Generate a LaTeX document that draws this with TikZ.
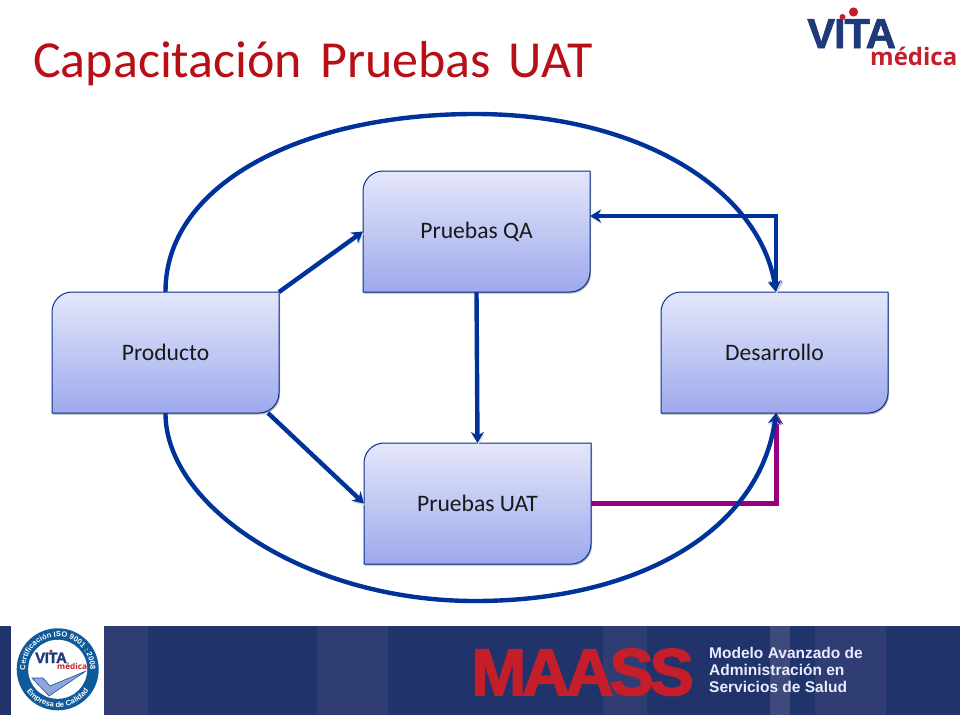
\documentclass[tikz,border=0pt]{standalone}
\usepackage{fontspec}
\usetikzlibrary{arrows.meta,shadows,decorations.text,calc}
\setmainfont{Carlito}
\newfontfamily\arialb[BoldFont={Liberation Sans Bold}]{Liberation Sans}
\newfontfamily\maassfont[LetterSpace=-6,FakeBold=2.5]{Liberation Sans Bold}
\newfontfamily\vitafont[LetterSpace=-3,FakeBold=1.5]{Liberation Sans Bold}
\newfontfamily\medfont{Open Sans Bold}
\definecolor{linkblue}{HTML}{003399}
\definecolor{linkmag}{HTML}{990080}
\definecolor{boxedge}{HTML}{0B2F8F}
\definecolor{boxtop}{HTML}{E4E7FA}
\definecolor{boxbot}{HTML}{9DA9EC}
\definecolor{titlered}{HTML}{B80F16}
\definecolor{banddark}{HTML}{20336B}
\definecolor{bandmid}{HTML}{303D72}
\definecolor{bandlite}{HTML}{3F4A7C}
\definecolor{maassred}{HTML}{C41E2B}
\definecolor{vitablue}{HTML}{1F3A78}
\definecolor{sealblue}{HTML}{0E5A9B}
\tikzset{
  x=1pt,y=-1pt,
  boxshape/.style={draw=boxedge,line width=1pt,top color=boxtop,bottom color=boxbot,
    drop shadow={shadow xshift=1pt,shadow yshift=-1.5pt,opacity=.3,fill=black}},
  boxlabel/.style={minimum width=227pt,minimum height=121pt,inner sep=0pt,outer sep=0pt,font=\fontsize{23.6}{27}\selectfont,text=black!90},
  link/.style={line width=4.4pt,draw=linkblue,-{Stealth[length=11pt,width=13pt]},
    preaction={draw=black!15,transform canvas={xshift=.8pt,yshift=-1.6pt}}},
  linktwo/.style={link,{Stealth[length=11pt,width=13pt]}-{Stealth[length=11pt,width=13pt]}},
  maglink/.style={link,draw=linkmag},
  band/.style={fill=banddark,draw=none},
  stripe/.style={fill=#1,draw=none},
}
\newcommand{\diagshape}[2]{%
  \path[boxshape] (#1,#2+121) -- (#1,#2+20) .. controls (#1,#2+9) and (#1+9,#2) .. (#1+20,#2)
    -- (#1+227,#2) -- (#1+227,#2+101) .. controls (#1+227,#2+112) and (#1+218,#2+121) .. (#1+207,#2+121) -- cycle;}
\newcommand{\boxtxt}[1]{\raisebox{-1.5pt}{#1}}
\begin{document}
\begin{tikzpicture}
\useasboundingbox (0,0) rectangle (960,720);
\fill[white] (0,0) rectangle (960,720);

% bottom band
\path[band] (0,626) rectangle (11,715);
\path[band] (104,626) rectangle (960,715);
\path[stripe=bandmid] (104,626) rectangle (148,715);
\path[stripe=bandmid] (317,626) rectangle (388,715);
\path[stripe=bandmid] (603,626) rectangle (647,715);
\path[stripe=bandlite] (770,626) rectangle (790,715);
\path[stripe=bandmid] (815,626) rectangle (886,715);

% title
\node[anchor=base west,inner sep=0pt,text=titlered,font=\fontsize{52}{60}\selectfont] (title) at (33,77) {Capacitación\hspace{.12em} Pruebas\hspace{.12em} UAT};

% top logo
\node[anchor=base west,inner sep=0pt,text=vitablue,font=\vitafont\fontsize{42}{44}\selectfont] (vita) at (807,48) {VITA};
\fill[maassred] (853.5,12) circle (4.6);
\fill[maassred] (842.5,17) circle (3);
\node[anchor=base west,inner sep=0pt,text=maassred,font=\medfont\fontsize{24}{26}\selectfont] (medica) at (870,65) {médica};

% boxes
\diagshape{52}{292}
\diagshape{363}{171}
\diagshape{364}{443}
\diagshape{661}{292}
\node[boxlabel] (prod) at (165.5,352.5) {\boxtxt{Producto}};
\node[boxlabel] (qa) at (476.5,231.5) {\boxtxt{Pruebas QA}};
\node[boxlabel] (uat) at (477.5,503.5) {\boxtxt{Pruebas UAT}};
\node[boxlabel] (des) at (774.5,352.5) {\boxtxt{Desarrollo}};

% connectors
\draw[link] (prod.north east) -- (qa.west);
\draw[link] (prod.south east) ++(-11,0) -- (uat.west);
\draw[link] (qa.south) -- (uat.north);
\draw[linktwo] ([xshift=1.5pt]des.north) |- ([yshift=15.5pt]qa.east);
\draw[maglink] (uat.east) -| ([xshift=2pt]des.south);
\draw[link] (prod.north) .. controls (165,185) and (300,114) .. (475,114)
   .. controls (640,114) and (760,190) .. ([xshift=1.5pt]des.north);
\draw[link] (prod.south) .. controls (165,505) and (305,601) .. (475,601)
   .. controls (640,601) and (760,530) .. ([xshift=1.5pt]des.south);

% seal
\fill[white] (11,626) rectangle (104,715);
\fill[sealblue] (57.7,669.3) circle (41);
\fill[white] (57.7,669.3) circle (29.5);
\path[decorate,decoration={text along path,text align=center,
   text={|\arialb\bfseries\fontsize{7.6}{9}\selectfont\color{white}|Certificación ISO 9001 : 2008}}]
   (57.7,669.3) ++(160:32.5) arc[start angle=160,end angle=380,radius=32.5];
\path[decorate,decoration={text along path,text align=center,
   text={|\arialb\bfseries\fontsize{7.6}{9}\selectfont\color{white}|Empresa de Calidad}}]
   (57.7,669.3) ++(150:38) arc[start angle=150,end angle=30,radius=38];
\node[anchor=base west,inner sep=0pt,text=vitablue,font=\vitafont\fontsize{15}{18}\selectfont] (sealvita) at (35,663) {VITA};
\fill[maassred] (51,651) circle (1.6);
\node[anchor=base west,inner sep=0pt,text=maassred,font=\medfont\fontsize{8.2}{9}\selectfont] (sealmedica) at (57,669.5) {médica};
\path[fill=cyan!40!blue!45,draw=sealblue,line width=.6pt] (32,678) -- (43,678) -- (50,686) -- (86,671) -- (49,696) -- cycle;

% MAASS
\node[anchor=base west,inner sep=0pt,text=maassred,font=\maassfont\fontsize{66}{70}\selectfont] (maass) at (471,695) {MAASS};
\node[anchor=north west,inner sep=0pt,align=left,text=white!92!blue,font=\arialb\bfseries\fontsize{15.5}{16.8}\selectfont] (maasstxt) at (709,647) {Modelo Avanzado de\\Administración en\\Servicios de Salud};
\end{tikzpicture}
\end{document}
